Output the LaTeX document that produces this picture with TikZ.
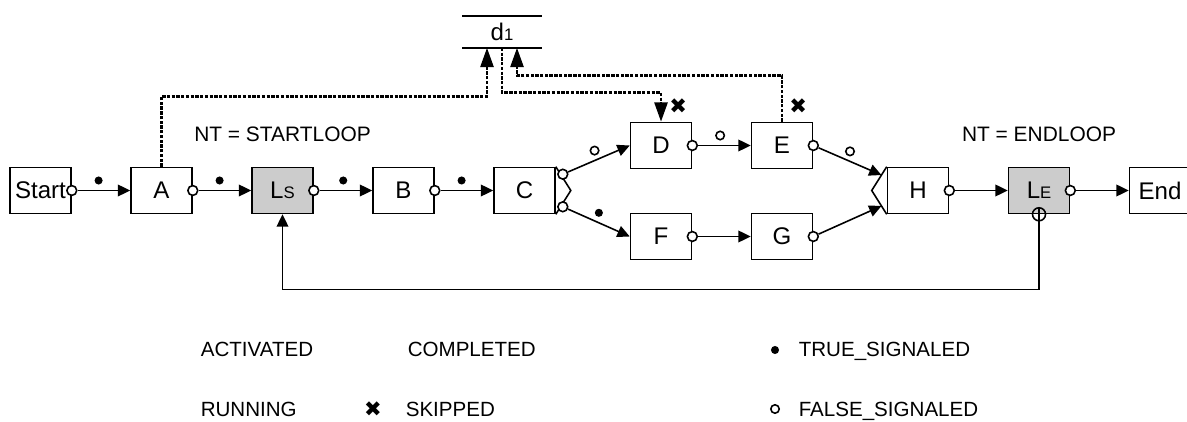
\documentclass[tikz,border=0pt]{standalone}
\usepackage{fontspec}
\setmainfont{Liberation Sans}
\newfontfamily\symbolfont{DejaVu Sans}
\usetikzlibrary{positioning, arrows.meta, calc}

\newcommand{\skipsign}{{\symbolfont\fontsize{12}{12}\selectfont ✖}}
\newcommand{\smallsub}[1]{{\fontsize{9.5}{9.5}\selectfont #1}}

\begin{document}
\begin{tikzpicture}[node distance=2.42cm, on grid, line width=0.9pt,
    >={Triangle[length=7pt, width=6.6pt]},
    act/.style={draw, minimum width=1.22cm, minimum height=0.92cm, inner sep=0pt,
        font=\fontsize{13.7}{14}\selectfont},
    loopact/.style={act, fill=black!20},
    port/.style={circle, draw, fill=white, inner sep=0pt, minimum size=5.6pt},
    tsig/.style={circle, fill, inner sep=0pt, minimum size=4.6pt, yshift=0.2cm},
    fsig/.style={circle, draw, fill=white, inner sep=0pt, minimum size=4.8pt, yshift=0.2cm},
    dataflow/.style={line width=1.5pt, dash pattern=on 1.9pt off 0.8pt,
        -{Triangle[length=11pt, width=7.4pt]}},
    note/.style={inner sep=0pt, font=\fontsize{11.9}{12}\selectfont},
    legend/.style={inner sep=0pt, anchor=base west, font=\fontsize{11.7}{12}\selectfont}]
    \useasboundingbox (0,0) rectangle (23.74,-8.44);

    % Activities
    \node[act]                                 (start) at (0.81,-3.81) {Start};
    \node[act, right=of start]                 (A)  {A};
    \node[loopact, right=of A]                 (LS) {L\smallsub{S}};
    \node[act, right=of LS]                    (B)  {B};
    \node[act, right=of B]                     (C)  {C};
    \node[act, above right=0.9cm and 2.73cm of C]  (D) {D};
    \node[act, right=of D]                     (E)  {E};
    \node[act, below right=0.92cm and 2.73cm of C] (F) {F};
    \node[act, right=of F]                     (G)  {G};
    \node[act, below right=0.9cm and 2.72cm of E]  (H) {H};
    \node[loopact, right=of H]                 (LE) {L\smallsub{E}};
    \node[act, right=of LE]                    (end) {End};

    % Split after C, join before H
    \draw (C.north east) -- ([xshift=0.3cm]C.east) -- (C.south east);
    \draw (H.north west) -- ([xshift=-0.3cm]H.west) -- (H.south west);
    \coordinate (h1) at ($(H.north west)!0.35!([xshift=-0.3cm]H.west)$);
    \coordinate (h2) at ($(H.south west)!0.35!([xshift=-0.3cm]H.west)$);

    % Output ports
    \node[port] (pstart) at (start.east) {};
    \node[port] (pA)  at (A.east) {};
    \node[port] (pLS) at (LS.east) {};
    \node[port] (pB)  at (B.east) {};
    \node[port] (pC1) at ([xshift=0.14cm, yshift=-0.15cm]C.north east) {};
    \node[port] (pC2) at ([xshift=0.14cm, yshift=0.15cm]C.south east) {};
    \node[port] (pD)  at (D.east) {};
    \node[port] (pE)  at (E.east) {};
    \node[port] (pF)  at (F.east) {};
    \node[port] (pG)  at (G.east) {};
    \node[port] (pH)  at (H.east) {};
    \node[port] (pLE) at (LE.east) {};

    % Transitions
    \path[->]
      (pstart) edge node[tsig, pos=0.4]  {} (A)
      (pA)     edge node[tsig, pos=0.4]  {} (LS)
      (pLS)    edge node[tsig, pos=0.45] {} (B)
      (pB)     edge node[tsig, pos=0.4]  {} (C)
      (pC1)    edge node[fsig, pos=0.43] {} (D.west)
      (pC2)    edge node[tsig, pos=0.5]  {} (F.west)
      (pD)     edge node[fsig, pos=0.42] {} (E)
      (pF)     edge                         (G)
      (pE)     edge node[fsig, pos=0.5]  {} (h1)
      (pG)     edge                         (h2)
      (pH)     edge                         (LE)
      (pLE)    edge                         (end);

    % Loop back to the start of the loop
    \node[circle, draw, inner sep=0pt, minimum size=0.26cm] (LEback) at (LE.south) {};
    \draw[->] (LEback.north) -- ++(0,-1.65) -| (LS.south);

    \node[note, anchor=base] (ntstart) at ([yshift=0.97cm]LS.center) {NT = STARTLOOP};
    \node[note, anchor=base] (ntend)   at ([yshift=0.97cm]LE.center) {NT = ENDLOOP};

    % Data store d1
    \node[note, minimum width=1.56cm, minimum height=0.6cm, font=\fontsize{13.7}{14}\selectfont]
        (d1) at (10.04,-0.64) {d\smallsub{1}};
    \draw (d1.north west) -- (d1.north east)
          (d1.south west) -- (d1.south east);
    \draw[dataflow] (A.north) -- ++(0,1.41) -| ([xshift=-0.3cm]d1.south);
    \draw[dataflow] (d1.south) -- ++(0,-0.9) -| (D.north);
    \draw[dataflow] (E.north) -- ++(0,0.92) -| ([xshift=0.3cm]d1.south);

    \node[inner sep=0pt] (skD) at ([xshift=-0.28cm, yshift=0.32cm]D.north east) {\skipsign};
    \node[inner sep=0pt] (skE) at ([xshift=-0.3cm, yshift=0.32cm]E.north east) {\skipsign};

    % Legend
    \node[legend] (lgact)  at (4.0,-7.14)  {ACTIVATED};
    \node[legend] (lgcomp) at (8.14,-7.14) {COMPLETED};
    \node[legend] (lgrun)  at (4.0,-8.32)  {RUNNING};
    \node[inner sep=0pt] (lgskipsign) at (7.46,-8.18) {\skipsign};
    \node[legend] (lgskip) at (8.1,-8.32)  {SKIPPED};
    \node[circle, fill, inner sep=0pt, minimum size=4.6pt] (lgtsig) at (15.5,-7.0) {};
    \node[legend] (lgtrue) at (15.96,-7.14) {TRUE\_SIGNALED};
    \node[circle, draw, inner sep=0pt, minimum size=4.8pt] (lgfsig) at (15.5,-8.18) {};
    \node[legend] (lgfalse) at (15.96,-8.32) {FALSE\_SIGNALED};
\end{tikzpicture}
\end{document}
